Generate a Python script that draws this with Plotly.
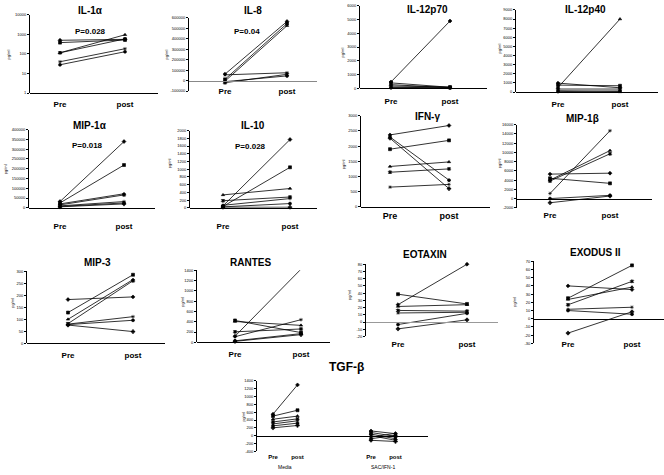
import plotly.graph_objects as go

# ---------------- data ----------------
groups = ["Pre", "post"]

il1a_pre = [500, 380, 115, 115, 40, 28]
il1a_post = [560, 520, 960, 590, 185, 130]
il8_pre = [62000, 12000, -5000, -20000, 55000, -10000]
il8_post = [565000, 545000, 525000, 60000, 75000, 45000]
il12p70_pre = [450, 380, 250, 150, 60, 20]
il12p70_post = [4900, 60, 30, 80, 20, 10]
il12p40_pre = [980, 760, 500, 330, 150, 50]
il12p40_post = [470, 690, 8000, 330, 60, 120]
mip1a_pre = [32000, 25000, 20000, 15000, 10000, 7000, 5000]
mip1a_post = [339000, 219000, 72000, 66000, 32000, 25000, 20000]
il10_pre = [50, 35, 335, 185, 65, 25, 15]
il10_post = [1770, 1050, 500, 280, 240, 110, 15]
ifng_pre = [2370, 1900, 1330, 1140, 650, 2300, 2260]
ifng_post = [2680, 2190, 1480, 1250, 740, 880, 600]
mip1b_pre = [5300, 4400, 4000, 3800, 1100, 0, -900]
mip1b_post = [5500, 3300, 10400, 9700, 14700, 700, 550]
mip3_pre = [182, 128, 100, 82, 80, 78, 76]
mip3_post = [193, 285, 265, 260, 111, 96, 49]
rantes_pre = [120, 425, 405, 205, 110, 30, 20]
rantes_post = [1420, 190, 330, 260, 440, 170, 150]
eotaxin_pre = [24, 38.5, 21.5, 16, 12.5, -3.5, -9.5]
eotaxin_post = [80, 25, 24, 15, 13.5, 12, 3]
exodus_pre = [40, 25, 23.5, 17, 11.5, 10, -17.5]
exodus_post = [35.5, 65, 38.5, 45.5, 14, 5.5, 8.5]

tgf_groups = ["Media", "SAC/IFN-1"]
tgf_media_pre = [550, 500, 420, 350, 300, 250, 200]
tgf_media_post = [1300, 650, 500, 430, 380, 320, 260]
tgf_sac_pre = [120, 80, 40, 0, -40, -80, -120]
tgf_sac_post = [50, -20, -80, -120, 60, 10, -150]

p_values = {"IL-1α": "P=0.028", "IL-8": "P=0.04", "MIP-1α": "P=0.018", "IL-10": "P=0.028"}

# ---------------- layout helpers ----------------
W, H = 664, 475
FONT = "Arial, Liberation Sans, sans-serif"
SYMS = ['diamond', 'square', 'triangle-up', 'x', 'asterisk-open', 'circle', 'cross']


def fx(px):
    return px / W


def fy(py):
    return 1 - py / H


def rng(a, b, s):
    out, v = [], a
    while v <= b + 1e-9:
        out.append(v)
        v += s
    return out


panels = [
    dict(title="IL-1α", pre=il1a_pre, post=il1a_post, box=(30, 12, 158, 91), px=(60, 125),
         yr=(1, 10000), log=True, ticks=[1, 10, 100, 1000, 10000], tpos=(90, 8), ylab=(8, 52),
         tl=3, fs=8, ac="black", ppos=(90, 29)),
    dict(title="IL-8", pre=il8_pre, post=il8_post, box=(189, 15, 317, 89), px=(225, 287),
         yr=(-100000, 600000), ticks=rng(-100000, 600000, 100000), tpos=(253, 8), ylab=(166, 52),
         tl=3, fs=8, ac="#888888", ppos=(247, 29)),
    dict(title="IL-12p70", pre=il12p70_pre, post=il12p70_post, box=(360, 3, 487, 86), px=(391, 450),
         yr=(0, 6000), ticks=rng(0, 6000, 1000), tpos=(427, 7), ylab=(342, 50),
         tl=5, fs=8, ac="black"),
    dict(title="IL-12p40", pre=il12p40_pre, post=il12p40_post, box=(516, 7, 658, 90), px=(558, 620),
         yr=(0, 9000), ticks=rng(0, 9000, 1000), tpos=(585, 7), ylab=(500, 46),
         tl=4, fs=8, ac="black"),
    dict(title="MIP-1α", pre=mip1a_pre, post=mip1a_post, box=(29, 128, 155, 207), px=(60, 124),
         yr=(0, 400000), ticks=rng(0, 400000, 50000), tpos=(90, 124), ylab=(5, 168),
         tl=11, fs=8, ac="black", ppos=(87, 144)),
    dict(title="IL-10", pre=il10_pre, post=il10_post, box=(190, 129, 317, 207), px=(223, 290),
         yr=(0, 2000), ticks=rng(0, 2000, 200), tpos=(253, 124), ylab=(169, 162),
         tl=11, fs=8, ac="black", ppos=(250, 145)),
    dict(title="IFN-γ", pre=ifng_pre, post=ifng_post, box=(361, 114, 490, 206), px=(390, 449),
         yr=(0, 3000), ticks=rng(0, 3000, 500), tpos=(427, 115), ylab=(343, 163),
         tl=0, fs=9, ac="black"),
    dict(title="MIP-1β", pre=mip1b_pre, post=mip1b_post, box=(517, 123, 652, 207), px=(550, 610),
         yr=(-2000, 16000), ticks=rng(-2000, 16000, 2000), tpos=(582, 117), ylab=(499, 162),
         tl=9, fs=8, ac="black"),
    dict(title="MIP-3", pre=mip3_pre, post=mip3_post, box=(27, 271, 165, 344), px=(68, 133),
         yr=(0, 300), ticks=rng(0, 300, 50), tpos=(97, 262), ylab=(13, 303),
         tl=4, fs=8, ac="black"),
    dict(title="RANTES", pre=rantes_pre, post=rantes_post, box=(197, 270, 330, 343), px=(235, 301),
         yr=(0, 1400), ticks=rng(0, 1400, 200), tpos=(250, 262), ylab=(183, 302),
         tl=4, fs=8, ac="black"),
    dict(title="EOTAXIN", pre=eotaxin_pre, post=eotaxin_post, box=(366, 264, 498, 337), px=(398, 467),
         yr=(-20, 80), ticks=rng(-20, 80, 10), tpos=(425, 254), ylab=(350, 295),
         tl=14, fs=8, ac="#999999"),
    dict(title="EXODUS II", pre=exodus_pre, post=exodus_post, box=(534, 261, 664, 344), px=(568, 632),
         yr=(-30, 70), ticks=rng(-30, 70, 10), tpos=(595, 252), ylab=(515, 302),
         tl=18, fs=8, ac="black"),
]

fig = go.Figure()
annotations = []
layout = {}


def ax_names(i):
    return ("xaxis" if i == 1 else f"xaxis{i}", "yaxis" if i == 1 else f"yaxis{i}",
            "x" if i == 1 else f"x{i}", "y" if i == 1 else f"y{i}")


def yaxis_dict(p, xa_ref, log=False):
    x0, y0, x1, y1 = p["box"]
    d = dict(domain=[fy(y1), fy(y0)], anchor=xa_ref, showline=True, linecolor="black", linewidth=1,
             ticks="outside", ticklen=2, tickwidth=0.8, tickcolor="black", showgrid=False, zeroline=False,
             tickfont=dict(size=4, family=FONT, color="black"), tickmode="array",
             tickvals=p["ticks"], ticktext=[str(int(v)) for v in p["ticks"]])
    if log:
        d["type"] = "log"
        d["range"] = [0, 4]
    else:
        d["range"] = list(p["yr"])
    return d


def text_ann(x, y, text, size, xref="paper", angle=0, bold=False):
    return dict(x=x, y=y, xref=xref, yref="paper", text=f"<b>{text}</b>" if bold else text,
                showarrow=False, xanchor="center", yanchor="middle", textangle=angle,
                font=dict(size=size, family=FONT, color="black"))


def add_line(x, y, xr, yr_, j):
    fig.add_trace(go.Scatter(x=x, y=y, mode="lines+markers", xaxis=xr, yaxis=yr_,
                             line=dict(color="black", width=0.8), cliponaxis=False,
                             marker=dict(symbol=SYMS[j % len(SYMS)], size=3, color="black",
                                         line=dict(color="black", width=0.6))))


for i, p in enumerate(panels, start=1):
    xa, ya, xr, yr_ = ax_names(i)
    x0, y0, x1, y1 = p["box"]
    ppre, ppost = p["px"]
    s = ppost - ppre
    xrange = [-(ppre - x0) / s, 1 + (x1 - ppost) / s]
    ymin, ymax = p["yr"]
    d0, d1 = fy(y1), fy(y0)
    frac = 0 if p.get("log") else (0 - ymin) / (ymax - ymin)
    pos = d0 + frac * (d1 - d0)
    layout[xa] = dict(domain=[fx(x0), fx(x1)], range=xrange, anchor="free", position=pos,
                      showline=True, linecolor=p["ac"], linewidth=1, showgrid=False, zeroline=False,
                      tickmode="array", tickvals=[0, 1], ticktext=[f"<b>{g}</b>" for g in groups],
                      ticks="outside", ticklen=p["tl"], tickcolor="rgba(0,0,0,0)",
                      tickfont=dict(size=p["fs"], family=FONT, color="black"))
    layout[ya] = yaxis_dict(p, xr, p.get("log", False))
    for j, (a, b) in enumerate(zip(p["pre"], p["post"])):
        add_line([0, 1], [a, b], xr, yr_, j)
    tx, ty = p["tpos"]
    annotations.append(text_ann(fx(tx), fy(ty), p["title"], 10, bold=True))
    lx, ly = p["ylab"]
    annotations.append(text_ann(fx(lx), fy(ly), "pg/ml", 4, angle=-90))
    if p["title"] in p_values:
        qx, qy = p["ppos"]
        annotations.append(text_ann(fx(qx), fy(qy), p_values[p["title"]], 8, bold=True))

# ---------------- TGF-beta panel ----------------
i = len(panels) + 1
xa, ya, xr, yr_ = ax_names(i)
tgf = dict(box=(257, 382, 428, 453), yr=(-400, 1400), ticks=rng(-400, 1400, 200))
x0, y0, x1, y1 = tgf["box"]
unit = 24.5
gap = 4  # position offset of second group
xrange = [-(273 - x0) / unit, gap + 1 + (x1 - (273 + (gap + 1) * unit)) / unit]
d0, d1 = fy(y1), fy(y0)
pos = d0 + (0 - tgf["yr"][0]) / (tgf["yr"][1] - tgf["yr"][0]) * (d1 - d0)
layout[xa] = dict(domain=[fx(x0), fx(x1)], range=xrange, anchor="free", position=pos,
                  showline=True, linecolor="black", linewidth=1, showgrid=False, zeroline=False,
                  tickmode="array", tickvals=[0, 1, gap, gap + 1],
                  ticktext=[f"<b>{g}</b>" for g in groups] * 2,
                  ticks="outside", ticklen=15, tickcolor="rgba(0,0,0,0)",
                  tickfont=dict(size=6, family=FONT, color="black"))
layout[ya] = yaxis_dict(tgf, xr)
for off, pre, post in [(0, tgf_media_pre, tgf_media_post), (gap, tgf_sac_pre, tgf_sac_post)]:
    for j, (a, b) in enumerate(zip(pre, post)):
        add_line([off, off + 1], [a, b], xr, yr_, j)
for k, g in enumerate(tgf_groups):
    annotations.append(text_ann(k * gap + 0.5, fy(469), g, 5, xref=xr))
annotations.append(text_ann(fx(347), fy(368), "TGF-β", 12, bold=True))
annotations.append(text_ann(fx(244), fy(418), "pg/ml", 4, angle=-90))

fig.update_layout(width=W, height=H, margin=dict(l=0, r=0, t=0, b=0), paper_bgcolor="white",
                  plot_bgcolor="white", showlegend=False, annotations=annotations, **layout)
fig.write_html("out.html", config={"displayModeBar": False},
               post_script="document.body.style.margin='0px';")
